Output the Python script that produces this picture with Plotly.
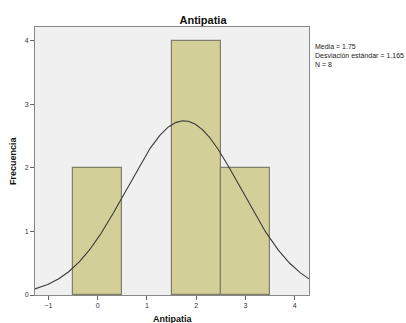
import numpy as np
import plotly.graph_objects as go

# Data
categories = [0, 1, 2, 3]
counts = [2, 0, 4, 2]
media = 1.75
desviacion = 1.165
n_total = 8
x_ticks = [-1, 0, 1, 2, 3, 4]
y_ticks = [0, 1, 2, 3, 4]

FONT = "Liberation Sans, Arial, sans-serif"

bar_x = [c for c, v in zip(categories, counts) if v > 0]
bar_y = [v for v in counts if v > 0]

fig = go.Figure()
fig.add_trace(go.Bar(
    x=bar_x, y=bar_y, width=1,
    marker=dict(color="#D3CF98", line=dict(color="#7F7F6A", width=1.2)),
    showlegend=False, hoverinfo="skip",
))

xr = [-1.27, 4.29]
xs = np.linspace(xr[0], xr[1], 300)
ys = n_total * 1.0 / (desviacion * np.sqrt(2 * np.pi)) * np.exp(-0.5 * ((xs - media) / desviacion) ** 2)
fig.add_trace(go.Scatter(x=xs, y=ys, mode="lines",
                         line=dict(color="#3a3a3a", width=1.1),
                         showlegend=False, hoverinfo="skip"))

PW, PH = 274, 268
fig.update_layout(
    width=406, height=323,
    margin=dict(l=35, r=97, t=27, b=28, autoexpand=False),
    paper_bgcolor="white",
    plot_bgcolor="#F0F0F0",
    font=dict(family=FONT, size=7, color="#333"),
    bargap=0,
    title=dict(text="<b>Antipatia</b>", x=0.5, xanchor="center", y=1 - 20 / 323, yanchor="middle",
               font=dict(size=11, color="#111")),
    xaxis=dict(range=xr, tickvals=x_ticks, ticks="outside", ticklen=4, tickcolor="#666",
               showgrid=False, zeroline=False, showline=True, mirror=True, linecolor="#888", linewidth=1,
               automargin=False, tickfont=dict(size=7)),
    yaxis=dict(range=[0, 4.215], tickvals=y_ticks, ticks="outside", ticklen=4, tickcolor="#666",
               showgrid=False, zeroline=False, showline=True, mirror=True, linecolor="#888", linewidth=1,
               automargin=False, tickfont=dict(size=7)),
    annotations=[
        dict(xref="paper", yref="paper", x=1.0, y=1 - (41 - 27) / PH, xanchor="left", yanchor="top",
             xshift=4, align="left", showarrow=False,
             text=f"Media = {media}<br>Desviación estándar = {desviacion}<br>N = {n_total}",
             font=dict(size=7, color="#222")),
        dict(xref="paper", yref="paper", x=0.5, y=-(319 - 295) / PH, xanchor="center", yanchor="middle",
             showarrow=False, text="<b>Antipatia</b>", font=dict(size=9, color="#111")),
        dict(xref="paper", yref="paper", x=-(35 - 13) / PW, y=0.5, xanchor="center", yanchor="middle",
             showarrow=False, textangle=-90, text="<b>Frecuencia</b>", font=dict(size=9, color="#111")),
    ],
)

fig.write_html("out.html")
